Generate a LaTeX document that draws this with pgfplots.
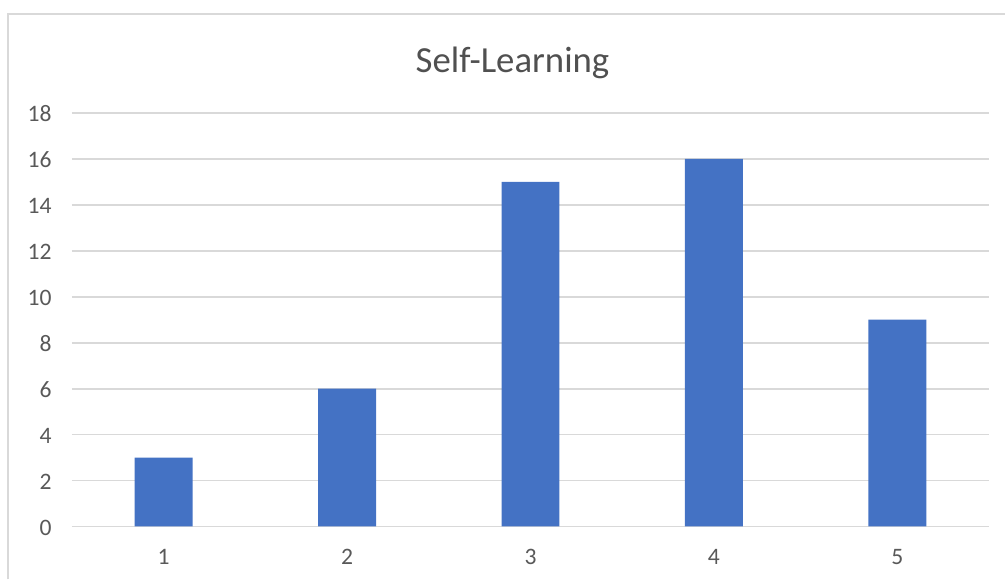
\documentclass[border=0pt]{standalone}
\usepackage{fontspec}
\setmainfont{Carlito}
\usepackage{pgfplots}
\pgfplotsset{compat=1.18}
\definecolor{barblue}{HTML}{4472C4}
\definecolor{gridgray}{HTML}{D9D9D9}
\definecolor{labelgray}{HTML}{595959}
\begin{document}
\begin{tikzpicture}
% page: 1 px of the layout = 0.5pt, origin at the plot's lower left corner
\path (-36pt,-26.5pt) rectangle (467pt,263.5pt);
% chart area border (left and top edges)
\draw[gridgray, line width=1pt] (-32pt,-26.5pt) -- (-32pt,256.5pt) -- (467pt,256.5pt);
\begin{axis}[
  at={(0pt,0pt)}, anchor=origin,
  scale only axis,
  width=459pt, height=207pt,
  xmin=0.5, xmax=5.5,
  ymin=0, ymax=18,
  ytick={0,2,...,18},
  xtick={1,2,3,4,5},
  axis line style={draw=none},
  major tick length=0pt,
  ymajorgrids,
  grid style={gridgray, line width=0.9pt},
  tick label style={font=\fontsize{11.8}{14}\selectfont, text=labelgray},
  /pgf/number format/assume math mode=true,
  yticklabel style={anchor=base east, inner sep=0pt, xshift=-10pt, yshift=-4.5pt},
  xticklabel style={anchor=base, inner sep=0pt, yshift=-19pt},
]
\addplot[ybar, bar width=29pt, fill=barblue, draw=none] coordinates {
  (1,3) (2,6) (3,15) (4,16) (5,9)
};
\end{axis}
\node[text=labelgray!90!black, font=\fontsize{18.4}{22}\selectfont] at (220.5pt,232pt) {Self-Learning};
\end{tikzpicture}
\end{document}
